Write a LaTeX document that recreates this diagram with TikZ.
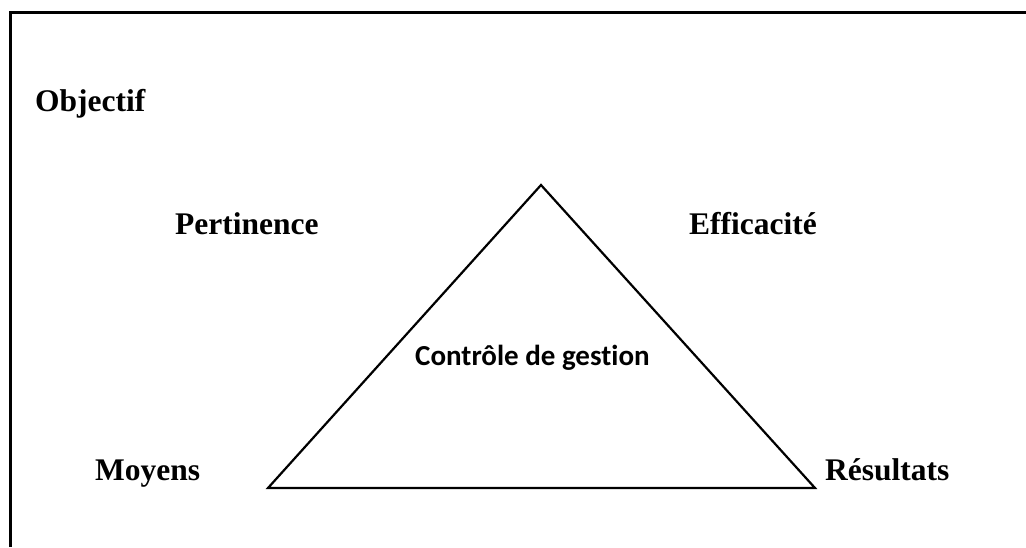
\documentclass[tikz,border=0pt]{standalone}
\usepackage{fontspec}
\setmainfont{Liberation Serif}
\newfontfamily\calibrifont[Ligatures=CommonOff]{Carlito}
\begin{document}
\begin{tikzpicture}[x=1pt,y=-1pt,
  lbl/.style={anchor=base west,inner sep=0pt,font=\fontsize{31.5}{36}\selectfont\bfseries},
  centerlbl/.style={anchor=base west,inner sep=0pt,font=\calibrifont\fontsize{29}{34}\selectfont\bfseries},
  frameline/.style={line width=3pt},
  triline/.style={line width=2.2pt,line join=miter}]
  \useasboundingbox (0,0) rectangle (1026,547);
  % frame (top and left edges)
  \coordinate (fl) at (10,547);
  \coordinate (ftl) at (10,12);
  \coordinate (fr) at (1026,12);
  \draw[frameline] (fl) -- (ftl) -- (fr);
  % triangle
  \coordinate (apex) at (541,185);
  \coordinate (bl) at (268,488);
  \coordinate (br) at (815,488);
  \draw[triline] (apex) -- (bl) -- (br) -- cycle;
  % labels
  \node[lbl] (obj) at (35,111) {Objectif};
  \node[lbl] (pert) at (175,234) {Pertinence};
  \node[lbl] (eff) at (689,234) {Efficacité};
  \node[lbl] (moy) at (95,480) {Moyens};
  \node[lbl] (res) at (825,480) {Résultats};
  \node[centerlbl] (cg) at (415,365) {Contrôle de gestion};
\end{tikzpicture}
\end{document}
